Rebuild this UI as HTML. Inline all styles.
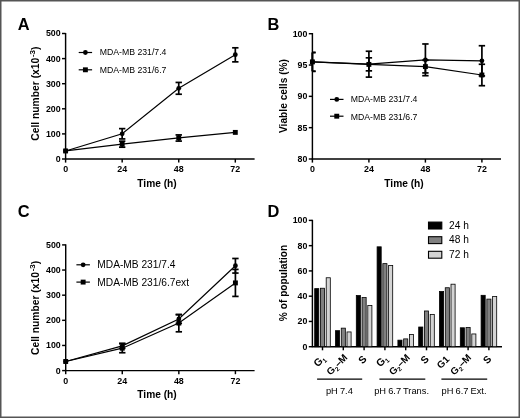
<!DOCTYPE html>
<html><head><meta charset="utf-8"><style>
html,body{margin:0;padding:0;background:#fff;}
svg{display:block;font-family:"Liberation Sans", sans-serif;filter:blur(0.35px);}
</style></head><body>
<svg width="520" height="418" viewBox="0 0 520 418">
<rect x="0" y="0" width="520" height="418" fill="#fff"/>
<g fill="#000" stroke-linecap="butt">
<line x1="65.60" y1="159.00" x2="65.60" y2="33.00" stroke="#000" stroke-width="1.45"/>
<line x1="64.95" y1="159.00" x2="254.60" y2="159.00" stroke="#000" stroke-width="1.45"/>
<line x1="62.00" y1="159.00" x2="65.60" y2="159.00" stroke="#000" stroke-width="1.45"/>
<text x="60.60" y="161.90" font-size="8.8" font-weight="bold" text-anchor="end" >0</text>
<line x1="62.00" y1="133.90" x2="65.60" y2="133.90" stroke="#000" stroke-width="1.45"/>
<text x="60.60" y="136.80" font-size="8.8" font-weight="bold" text-anchor="end" >100</text>
<line x1="62.00" y1="108.80" x2="65.60" y2="108.80" stroke="#000" stroke-width="1.45"/>
<text x="60.60" y="111.70" font-size="8.8" font-weight="bold" text-anchor="end" >200</text>
<line x1="62.00" y1="83.70" x2="65.60" y2="83.70" stroke="#000" stroke-width="1.45"/>
<text x="60.60" y="86.60" font-size="8.8" font-weight="bold" text-anchor="end" >300</text>
<line x1="62.00" y1="58.60" x2="65.60" y2="58.60" stroke="#000" stroke-width="1.45"/>
<text x="60.60" y="61.50" font-size="8.8" font-weight="bold" text-anchor="end" >400</text>
<line x1="62.00" y1="33.50" x2="65.60" y2="33.50" stroke="#000" stroke-width="1.45"/>
<text x="60.60" y="36.40" font-size="8.8" font-weight="bold" text-anchor="end" >500</text>
<line x1="65.60" y1="159.00" x2="65.60" y2="162.60" stroke="#000" stroke-width="1.45"/>
<text x="65.60" y="172.10" font-size="8.9" font-weight="bold" text-anchor="middle" >0</text>
<line x1="122.17" y1="159.00" x2="122.17" y2="162.60" stroke="#000" stroke-width="1.45"/>
<text x="122.17" y="172.10" font-size="8.9" font-weight="bold" text-anchor="middle" >24</text>
<line x1="178.74" y1="159.00" x2="178.74" y2="162.60" stroke="#000" stroke-width="1.45"/>
<text x="178.74" y="172.10" font-size="8.9" font-weight="bold" text-anchor="middle" >48</text>
<line x1="235.31" y1="159.00" x2="235.31" y2="162.60" stroke="#000" stroke-width="1.45"/>
<text x="235.31" y="172.10" font-size="8.9" font-weight="bold" text-anchor="middle" >72</text>
<text x="157.00" y="187.00" font-size="10.2" font-weight="bold" text-anchor="middle" >Time (h)</text>
<g transform="translate(39.3,93.6) rotate(-90)">
<text x="0" y="0" font-size="10.3" font-weight="bold" text-anchor="middle">Cell number (x10<tspan font-size="8" dx="0.7" dy="-4">-3</tspan><tspan dy="4">)</tspan></text>
</g>
<polyline points="65.60,150.97 122.17,133.80 178.74,88.29 235.31,54.71" fill="none" stroke="#000" stroke-width="1.2"/>
<line x1="122.17" y1="128.63" x2="122.17" y2="138.92" stroke="#000" stroke-width="1.7"/>
<line x1="118.97" y1="128.63" x2="125.37" y2="128.63" stroke="#000" stroke-width="1.7"/>
<line x1="118.97" y1="138.92" x2="125.37" y2="138.92" stroke="#000" stroke-width="1.7"/>
<line x1="178.74" y1="82.44" x2="178.74" y2="94.24" stroke="#000" stroke-width="1.7"/>
<line x1="175.54" y1="82.44" x2="181.94" y2="82.44" stroke="#000" stroke-width="1.7"/>
<line x1="175.54" y1="94.24" x2="181.94" y2="94.24" stroke="#000" stroke-width="1.7"/>
<line x1="235.31" y1="47.81" x2="235.31" y2="61.86" stroke="#000" stroke-width="1.7"/>
<line x1="232.11" y1="47.81" x2="238.51" y2="47.81" stroke="#000" stroke-width="1.7"/>
<line x1="232.11" y1="61.86" x2="238.51" y2="61.86" stroke="#000" stroke-width="1.7"/>
<circle cx="65.60" cy="150.97" r="2.4" fill="#000"/>
<circle cx="122.17" cy="133.80" r="2.4" fill="#000"/>
<circle cx="178.74" cy="88.29" r="2.4" fill="#000"/>
<circle cx="235.31" cy="54.71" r="2.4" fill="#000"/>
<polyline points="65.60,150.97 122.17,144.19 178.74,137.84 235.31,132.39" fill="none" stroke="#000" stroke-width="1.2"/>
<line x1="122.17" y1="141.18" x2="122.17" y2="147.20" stroke="#000" stroke-width="1.7"/>
<line x1="118.97" y1="141.18" x2="125.37" y2="141.18" stroke="#000" stroke-width="1.7"/>
<line x1="118.97" y1="147.20" x2="125.37" y2="147.20" stroke="#000" stroke-width="1.7"/>
<line x1="178.74" y1="134.90" x2="178.74" y2="141.10" stroke="#000" stroke-width="1.7"/>
<line x1="175.54" y1="134.90" x2="181.94" y2="134.90" stroke="#000" stroke-width="1.7"/>
<line x1="175.54" y1="141.10" x2="181.94" y2="141.10" stroke="#000" stroke-width="1.7"/>
<rect x="63.15" y="148.52" width="4.9" height="4.9" fill="#000"/>
<rect x="119.72" y="141.74" width="4.9" height="4.9" fill="#000"/>
<rect x="176.29" y="135.39" width="4.9" height="4.9" fill="#000"/>
<rect x="232.86" y="129.94" width="4.9" height="4.9" fill="#000"/>
<line x1="78.70" y1="52.50" x2="92.10" y2="52.50" stroke="#000" stroke-width="1.2"/>
<circle cx="85.40" cy="52.50" r="2.4" fill="#000"/>
<text x="99.80" y="54.90" font-size="8.7" font-weight="normal" text-anchor="start" >MDA-MB 231/7.4</text>
<line x1="78.70" y1="69.80" x2="92.10" y2="69.80" stroke="#000" stroke-width="1.2"/>
<rect x="82.95" y="67.35" width="4.9" height="4.9" fill="#000"/>
<text x="99.80" y="72.80" font-size="8.7" font-weight="normal" text-anchor="start" >MDA-MB 231/6.7</text>
<text x="17.80" y="30.10" font-size="16.4" font-weight="bold" text-anchor="start" >A</text>
<line x1="312.40" y1="159.00" x2="312.40" y2="33.00" stroke="#000" stroke-width="1.45"/>
<line x1="311.75" y1="159.00" x2="501.00" y2="159.00" stroke="#000" stroke-width="1.45"/>
<line x1="308.80" y1="159.00" x2="312.40" y2="159.00" stroke="#000" stroke-width="1.45"/>
<text x="307.40" y="161.90" font-size="8.8" font-weight="bold" text-anchor="end" >80</text>
<line x1="308.80" y1="127.67" x2="312.40" y2="127.67" stroke="#000" stroke-width="1.45"/>
<text x="307.40" y="130.57" font-size="8.8" font-weight="bold" text-anchor="end" >85</text>
<line x1="308.80" y1="96.35" x2="312.40" y2="96.35" stroke="#000" stroke-width="1.45"/>
<text x="307.40" y="99.25" font-size="8.8" font-weight="bold" text-anchor="end" >90</text>
<line x1="308.80" y1="65.03" x2="312.40" y2="65.03" stroke="#000" stroke-width="1.45"/>
<text x="307.40" y="67.93" font-size="8.8" font-weight="bold" text-anchor="end" >95</text>
<line x1="308.80" y1="33.70" x2="312.40" y2="33.70" stroke="#000" stroke-width="1.45"/>
<text x="307.40" y="36.60" font-size="8.8" font-weight="bold" text-anchor="end" >100</text>
<line x1="312.40" y1="159.00" x2="312.40" y2="162.60" stroke="#000" stroke-width="1.45"/>
<text x="312.40" y="172.10" font-size="8.9" font-weight="bold" text-anchor="middle" >0</text>
<line x1="368.90" y1="159.00" x2="368.90" y2="162.60" stroke="#000" stroke-width="1.45"/>
<text x="368.90" y="172.10" font-size="8.9" font-weight="bold" text-anchor="middle" >24</text>
<line x1="425.40" y1="159.00" x2="425.40" y2="162.60" stroke="#000" stroke-width="1.45"/>
<text x="425.40" y="172.10" font-size="8.9" font-weight="bold" text-anchor="middle" >48</text>
<line x1="481.90" y1="159.00" x2="481.90" y2="162.60" stroke="#000" stroke-width="1.45"/>
<text x="481.90" y="172.10" font-size="8.9" font-weight="bold" text-anchor="middle" >72</text>
<text x="404.00" y="187.00" font-size="10.2" font-weight="bold" text-anchor="middle" >Time (h)</text>
<g transform="translate(287.4,96.0) rotate(-90)">
<text x="0" y="0" font-size="10.2" font-weight="bold" text-anchor="middle">Viable cells (%)</text>
</g>
<polyline points="312.40,61.89 368.90,64.09 425.40,59.83 481.90,60.83" fill="none" stroke="#000" stroke-width="1.2"/>
<line x1="312.40" y1="52.50" x2="312.40" y2="71.29" stroke="#000" stroke-width="1.7"/>
<line x1="312.40" y1="52.50" x2="315.60" y2="52.50" stroke="#000" stroke-width="1.7"/>
<line x1="312.40" y1="71.29" x2="315.60" y2="71.29" stroke="#000" stroke-width="1.7"/>
<line x1="368.90" y1="51.24" x2="368.90" y2="77.12" stroke="#000" stroke-width="1.7"/>
<line x1="365.70" y1="51.24" x2="372.10" y2="51.24" stroke="#000" stroke-width="1.7"/>
<line x1="365.70" y1="77.12" x2="372.10" y2="77.12" stroke="#000" stroke-width="1.7"/>
<line x1="425.40" y1="43.97" x2="425.40" y2="75.68" stroke="#000" stroke-width="1.7"/>
<line x1="422.20" y1="43.97" x2="428.60" y2="43.97" stroke="#000" stroke-width="1.7"/>
<line x1="422.20" y1="75.68" x2="428.60" y2="75.68" stroke="#000" stroke-width="1.7"/>
<line x1="481.90" y1="45.73" x2="481.90" y2="75.93" stroke="#000" stroke-width="1.7"/>
<line x1="478.70" y1="45.73" x2="485.10" y2="45.73" stroke="#000" stroke-width="1.7"/>
<line x1="478.70" y1="75.93" x2="485.10" y2="75.93" stroke="#000" stroke-width="1.7"/>
<circle cx="312.40" cy="61.89" r="2.4" fill="#000"/>
<circle cx="368.90" cy="64.09" r="2.4" fill="#000"/>
<circle cx="425.40" cy="59.83" r="2.4" fill="#000"/>
<circle cx="481.90" cy="60.83" r="2.4" fill="#000"/>
<polyline points="312.40,61.89 368.90,64.40 425.40,66.59 481.90,74.99" fill="none" stroke="#000" stroke-width="1.2"/>
<line x1="312.40" y1="52.50" x2="312.40" y2="71.29" stroke="#000" stroke-width="1.7"/>
<line x1="312.40" y1="52.50" x2="315.60" y2="52.50" stroke="#000" stroke-width="1.7"/>
<line x1="312.40" y1="71.29" x2="315.60" y2="71.29" stroke="#000" stroke-width="1.7"/>
<line x1="368.90" y1="57.82" x2="368.90" y2="70.85" stroke="#000" stroke-width="1.7"/>
<line x1="365.70" y1="57.82" x2="372.10" y2="57.82" stroke="#000" stroke-width="1.7"/>
<line x1="365.70" y1="70.85" x2="372.10" y2="70.85" stroke="#000" stroke-width="1.7"/>
<line x1="425.40" y1="60.26" x2="425.40" y2="72.92" stroke="#000" stroke-width="1.7"/>
<line x1="422.20" y1="60.26" x2="428.60" y2="60.26" stroke="#000" stroke-width="1.7"/>
<line x1="422.20" y1="72.92" x2="428.60" y2="72.92" stroke="#000" stroke-width="1.7"/>
<line x1="481.90" y1="64.27" x2="481.90" y2="85.70" stroke="#000" stroke-width="1.7"/>
<line x1="478.70" y1="64.27" x2="485.10" y2="64.27" stroke="#000" stroke-width="1.7"/>
<line x1="478.70" y1="85.70" x2="485.10" y2="85.70" stroke="#000" stroke-width="1.7"/>
<rect x="309.95" y="59.44" width="4.9" height="4.9" fill="#000"/>
<rect x="366.45" y="61.95" width="4.9" height="4.9" fill="#000"/>
<rect x="422.95" y="64.14" width="4.9" height="4.9" fill="#000"/>
<rect x="479.45" y="72.54" width="4.9" height="4.9" fill="#000"/>
<line x1="330.00" y1="99.40" x2="343.50" y2="99.40" stroke="#000" stroke-width="1.2"/>
<circle cx="336.75" cy="99.40" r="2.4" fill="#000"/>
<text x="350.80" y="102.30" font-size="8.7" font-weight="normal" text-anchor="start" >MDA-MB 231/7.4</text>
<line x1="330.00" y1="116.20" x2="343.50" y2="116.20" stroke="#000" stroke-width="1.2"/>
<rect x="334.30" y="113.75" width="4.9" height="4.9" fill="#000"/>
<text x="350.80" y="119.60" font-size="8.7" font-weight="normal" text-anchor="start" >MDA-MB 231/6.7</text>
<text x="267.40" y="30.10" font-size="16.4" font-weight="bold" text-anchor="start" >B</text>
<line x1="65.70" y1="370.60" x2="65.70" y2="244.30" stroke="#000" stroke-width="1.45"/>
<line x1="65.05" y1="370.60" x2="254.60" y2="370.60" stroke="#000" stroke-width="1.45"/>
<line x1="62.10" y1="370.60" x2="65.70" y2="370.60" stroke="#000" stroke-width="1.45"/>
<text x="60.70" y="373.50" font-size="8.8" font-weight="bold" text-anchor="end" >0</text>
<line x1="62.10" y1="345.46" x2="65.70" y2="345.46" stroke="#000" stroke-width="1.45"/>
<text x="60.70" y="348.36" font-size="8.8" font-weight="bold" text-anchor="end" >100</text>
<line x1="62.10" y1="320.32" x2="65.70" y2="320.32" stroke="#000" stroke-width="1.45"/>
<text x="60.70" y="323.22" font-size="8.8" font-weight="bold" text-anchor="end" >200</text>
<line x1="62.10" y1="295.18" x2="65.70" y2="295.18" stroke="#000" stroke-width="1.45"/>
<text x="60.70" y="298.08" font-size="8.8" font-weight="bold" text-anchor="end" >300</text>
<line x1="62.10" y1="270.04" x2="65.70" y2="270.04" stroke="#000" stroke-width="1.45"/>
<text x="60.70" y="272.94" font-size="8.8" font-weight="bold" text-anchor="end" >400</text>
<line x1="62.10" y1="244.90" x2="65.70" y2="244.90" stroke="#000" stroke-width="1.45"/>
<text x="60.70" y="247.80" font-size="8.8" font-weight="bold" text-anchor="end" >500</text>
<line x1="65.70" y1="370.60" x2="65.70" y2="374.20" stroke="#000" stroke-width="1.45"/>
<text x="65.70" y="383.70" font-size="8.9" font-weight="bold" text-anchor="middle" >0</text>
<line x1="122.27" y1="370.60" x2="122.27" y2="374.20" stroke="#000" stroke-width="1.45"/>
<text x="122.27" y="383.70" font-size="8.9" font-weight="bold" text-anchor="middle" >24</text>
<line x1="178.84" y1="370.60" x2="178.84" y2="374.20" stroke="#000" stroke-width="1.45"/>
<text x="178.84" y="383.70" font-size="8.9" font-weight="bold" text-anchor="middle" >48</text>
<line x1="235.41" y1="370.60" x2="235.41" y2="374.20" stroke="#000" stroke-width="1.45"/>
<text x="235.41" y="383.70" font-size="8.9" font-weight="bold" text-anchor="middle" >72</text>
<text x="157.00" y="397.90" font-size="10.2" font-weight="bold" text-anchor="middle" >Time (h)</text>
<g transform="translate(39.3,307.9) rotate(-90)">
<text x="0" y="0" font-size="10.3" font-weight="bold" text-anchor="middle">Cell number (x10<tspan font-size="8" dx="0.7" dy="-4">-3</tspan><tspan dy="4">)</tspan></text>
</g>
<polyline points="65.70,361.50 122.27,345.86 178.84,318.99 235.41,265.77" fill="none" stroke="#000" stroke-width="1.2"/>
<line x1="122.27" y1="343.35" x2="122.27" y2="348.38" stroke="#000" stroke-width="1.7"/>
<line x1="119.07" y1="343.35" x2="125.47" y2="343.35" stroke="#000" stroke-width="1.7"/>
<line x1="119.07" y1="348.38" x2="125.47" y2="348.38" stroke="#000" stroke-width="1.7"/>
<line x1="178.84" y1="314.64" x2="178.84" y2="323.34" stroke="#000" stroke-width="1.7"/>
<line x1="175.64" y1="314.64" x2="182.04" y2="314.64" stroke="#000" stroke-width="1.7"/>
<line x1="175.64" y1="323.34" x2="182.04" y2="323.34" stroke="#000" stroke-width="1.7"/>
<line x1="235.41" y1="258.48" x2="235.41" y2="273.06" stroke="#000" stroke-width="1.7"/>
<line x1="232.21" y1="258.48" x2="238.61" y2="258.48" stroke="#000" stroke-width="1.7"/>
<line x1="232.21" y1="273.06" x2="238.61" y2="273.06" stroke="#000" stroke-width="1.7"/>
<circle cx="65.70" cy="361.50" r="2.4" fill="#000"/>
<circle cx="122.27" cy="345.86" r="2.4" fill="#000"/>
<circle cx="178.84" cy="318.99" r="2.4" fill="#000"/>
<circle cx="235.41" cy="265.77" r="2.4" fill="#000"/>
<polyline points="65.70,361.50 122.27,348.20 178.84,323.09 235.41,282.91" fill="none" stroke="#000" stroke-width="1.2"/>
<line x1="122.27" y1="343.68" x2="122.27" y2="352.73" stroke="#000" stroke-width="1.7"/>
<line x1="119.07" y1="343.68" x2="125.47" y2="343.68" stroke="#000" stroke-width="1.7"/>
<line x1="119.07" y1="352.73" x2="125.47" y2="352.73" stroke="#000" stroke-width="1.7"/>
<line x1="178.84" y1="314.54" x2="178.84" y2="331.81" stroke="#000" stroke-width="1.7"/>
<line x1="175.64" y1="314.54" x2="182.04" y2="314.54" stroke="#000" stroke-width="1.7"/>
<line x1="175.64" y1="331.81" x2="182.04" y2="331.81" stroke="#000" stroke-width="1.7"/>
<line x1="235.41" y1="269.41" x2="235.41" y2="296.41" stroke="#000" stroke-width="1.7"/>
<line x1="232.21" y1="269.41" x2="238.61" y2="269.41" stroke="#000" stroke-width="1.7"/>
<line x1="232.21" y1="296.41" x2="238.61" y2="296.41" stroke="#000" stroke-width="1.7"/>
<rect x="63.25" y="359.05" width="4.9" height="4.9" fill="#000"/>
<rect x="119.82" y="345.75" width="4.9" height="4.9" fill="#000"/>
<rect x="176.39" y="320.64" width="4.9" height="4.9" fill="#000"/>
<rect x="232.96" y="280.46" width="4.9" height="4.9" fill="#000"/>
<line x1="76.40" y1="264.80" x2="89.90" y2="264.80" stroke="#000" stroke-width="1.2"/>
<circle cx="83.15" cy="264.80" r="2.4" fill="#000"/>
<text x="97.30" y="268.20" font-size="10.2" font-weight="normal" text-anchor="start" >MDA-MB 231/7.4</text>
<line x1="76.40" y1="282.10" x2="89.90" y2="282.10" stroke="#000" stroke-width="1.2"/>
<rect x="80.70" y="279.65" width="4.9" height="4.9" fill="#000"/>
<text x="97.30" y="285.60" font-size="10.2" font-weight="normal" text-anchor="start" >MDA-MB 231/6.7ext</text>
<text x="17.80" y="216.60" font-size="16.4" font-weight="bold" text-anchor="start" >C</text>
<line x1="312.40" y1="346.70" x2="312.40" y2="219.80" stroke="#000" stroke-width="1.45"/>
<line x1="311.75" y1="346.70" x2="502.00" y2="346.70" stroke="#000" stroke-width="1.45"/>
<line x1="308.80" y1="346.70" x2="312.40" y2="346.70" stroke="#000" stroke-width="1.45"/>
<text x="307.40" y="349.70" font-size="8.8" font-weight="bold" text-anchor="end" >0</text>
<line x1="308.80" y1="321.44" x2="312.40" y2="321.44" stroke="#000" stroke-width="1.45"/>
<text x="307.40" y="324.44" font-size="8.8" font-weight="bold" text-anchor="end" >20</text>
<line x1="308.80" y1="296.18" x2="312.40" y2="296.18" stroke="#000" stroke-width="1.45"/>
<text x="307.40" y="299.18" font-size="8.8" font-weight="bold" text-anchor="end" >40</text>
<line x1="308.80" y1="270.92" x2="312.40" y2="270.92" stroke="#000" stroke-width="1.45"/>
<text x="307.40" y="273.92" font-size="8.8" font-weight="bold" text-anchor="end" >60</text>
<line x1="308.80" y1="245.66" x2="312.40" y2="245.66" stroke="#000" stroke-width="1.45"/>
<text x="307.40" y="248.66" font-size="8.8" font-weight="bold" text-anchor="end" >80</text>
<line x1="308.80" y1="220.40" x2="312.40" y2="220.40" stroke="#000" stroke-width="1.45"/>
<text x="307.40" y="223.40" font-size="8.8" font-weight="bold" text-anchor="end" >100</text>
<line x1="322.50" y1="346.70" x2="322.50" y2="350.30" stroke="#000" stroke-width="1.45"/>
<line x1="343.30" y1="346.70" x2="343.30" y2="350.30" stroke="#000" stroke-width="1.45"/>
<line x1="364.10" y1="346.70" x2="364.10" y2="350.30" stroke="#000" stroke-width="1.45"/>
<line x1="384.90" y1="346.70" x2="384.90" y2="350.30" stroke="#000" stroke-width="1.45"/>
<line x1="405.70" y1="346.70" x2="405.70" y2="350.30" stroke="#000" stroke-width="1.45"/>
<line x1="426.50" y1="346.70" x2="426.50" y2="350.30" stroke="#000" stroke-width="1.45"/>
<line x1="447.30" y1="346.70" x2="447.30" y2="350.30" stroke="#000" stroke-width="1.45"/>
<line x1="468.10" y1="346.70" x2="468.10" y2="350.30" stroke="#000" stroke-width="1.45"/>
<line x1="488.90" y1="346.70" x2="488.90" y2="350.30" stroke="#000" stroke-width="1.45"/>
<rect x="314.70" y="288.62" width="4.10" height="58.08" fill="#000" stroke="#000" stroke-width="0.8"/>
<rect x="320.45" y="288.24" width="4.10" height="58.46" fill="#808080" stroke="#000" stroke-width="0.8"/>
<rect x="326.20" y="277.76" width="4.10" height="68.94" fill="#d4d4d4" stroke="#000" stroke-width="0.8"/>
<rect x="335.50" y="330.68" width="4.10" height="16.02" fill="#000" stroke="#000" stroke-width="0.8"/>
<rect x="341.25" y="328.15" width="4.10" height="18.54" fill="#808080" stroke="#000" stroke-width="0.8"/>
<rect x="347.00" y="331.94" width="4.10" height="14.76" fill="#d4d4d4" stroke="#000" stroke-width="0.8"/>
<rect x="356.30" y="295.57" width="4.10" height="51.13" fill="#000" stroke="#000" stroke-width="0.8"/>
<rect x="362.05" y="297.59" width="4.10" height="49.11" fill="#808080" stroke="#000" stroke-width="0.8"/>
<rect x="367.80" y="305.42" width="4.10" height="41.28" fill="#d4d4d4" stroke="#000" stroke-width="0.8"/>
<rect x="377.10" y="246.82" width="4.10" height="99.88" fill="#000" stroke="#000" stroke-width="0.8"/>
<rect x="382.85" y="263.62" width="4.10" height="83.08" fill="#808080" stroke="#000" stroke-width="0.8"/>
<rect x="388.60" y="265.51" width="4.10" height="81.19" fill="#d4d4d4" stroke="#000" stroke-width="0.8"/>
<rect x="397.90" y="340.15" width="4.10" height="6.55" fill="#000" stroke="#000" stroke-width="0.8"/>
<rect x="403.65" y="338.89" width="4.10" height="7.81" fill="#808080" stroke="#000" stroke-width="0.8"/>
<rect x="409.40" y="334.47" width="4.10" height="12.23" fill="#d4d4d4" stroke="#000" stroke-width="0.8"/>
<rect x="418.70" y="327.02" width="4.10" height="19.68" fill="#000" stroke="#000" stroke-width="0.8"/>
<rect x="424.45" y="310.98" width="4.10" height="35.72" fill="#808080" stroke="#000" stroke-width="0.8"/>
<rect x="430.20" y="314.39" width="4.10" height="32.31" fill="#d4d4d4" stroke="#000" stroke-width="0.8"/>
<rect x="439.50" y="291.53" width="4.10" height="55.17" fill="#000" stroke="#000" stroke-width="0.8"/>
<rect x="445.25" y="287.74" width="4.10" height="58.96" fill="#808080" stroke="#000" stroke-width="0.8"/>
<rect x="451.00" y="284.20" width="4.10" height="62.50" fill="#d4d4d4" stroke="#000" stroke-width="0.8"/>
<rect x="460.30" y="327.78" width="4.10" height="18.92" fill="#000" stroke="#000" stroke-width="0.8"/>
<rect x="466.05" y="327.40" width="4.10" height="19.30" fill="#808080" stroke="#000" stroke-width="0.8"/>
<rect x="471.80" y="333.96" width="4.10" height="12.74" fill="#d4d4d4" stroke="#000" stroke-width="0.8"/>
<rect x="481.10" y="295.32" width="4.10" height="51.38" fill="#000" stroke="#000" stroke-width="0.8"/>
<rect x="486.85" y="299.11" width="4.10" height="47.59" fill="#808080" stroke="#000" stroke-width="0.8"/>
<rect x="492.60" y="296.58" width="4.10" height="50.12" fill="#d4d4d4" stroke="#000" stroke-width="0.8"/>
<text transform="translate(326.00,359.20) rotate(-45)" font-size="10.5" font-weight="bold" text-anchor="end">G<tspan font-size="6.3" dy="2.2">1</tspan></text>
<text transform="translate(348.10,358.10) rotate(-45)" font-size="9.9" font-weight="bold" text-anchor="end">G<tspan font-size="6.3" dy="2.2">2</tspan><tspan dy="-2.2">–M</tspan></text>
<text transform="translate(367.20,359.60) rotate(-45)" font-size="10.2" font-weight="bold" text-anchor="end">S</text>
<text transform="translate(388.40,359.20) rotate(-45)" font-size="10.5" font-weight="bold" text-anchor="end">G<tspan font-size="6.3" dy="2.2">1</tspan></text>
<text transform="translate(410.50,358.10) rotate(-45)" font-size="9.9" font-weight="bold" text-anchor="end">G<tspan font-size="6.3" dy="2.2">2</tspan><tspan dy="-2.2">–M</tspan></text>
<text transform="translate(429.60,359.60) rotate(-45)" font-size="10.2" font-weight="bold" text-anchor="end">S</text>
<text transform="translate(450.00,360.00) rotate(-45)" font-size="9.8" font-weight="bold" text-anchor="end">G1</text>
<text transform="translate(471.90,358.10) rotate(-45)" font-size="9.9" font-weight="bold" text-anchor="end">G<tspan font-size="6.3" dy="2.2">2</tspan><tspan dy="-2.2">–M</tspan></text>
<text transform="translate(492.00,359.60) rotate(-45)" font-size="10.2" font-weight="bold" text-anchor="end">S</text>
<line x1="317.10" y1="379.20" x2="362.20" y2="379.20" stroke="#000" stroke-width="1.3"/>
<text x="339.40" y="393.80" font-size="9.3" font-weight="normal" text-anchor="middle" word-spacing="-0.5">pH 7.4</text>
<line x1="379.40" y1="379.20" x2="425.30" y2="379.20" stroke="#000" stroke-width="1.3"/>
<text x="401.60" y="393.80" font-size="9.3" font-weight="normal" text-anchor="middle" word-spacing="-0.5">pH 6.7 Trans.</text>
<line x1="441.40" y1="379.20" x2="487.20" y2="379.20" stroke="#000" stroke-width="1.3"/>
<text x="464.05" y="393.80" font-size="9.3" font-weight="normal" text-anchor="middle" word-spacing="-0.5">pH 6.7 Ext.</text>
<g transform="translate(287.3,283.0) rotate(-90)"><text x="0" y="0" font-size="10.2" font-weight="bold" text-anchor="middle">% of population</text></g>
<rect x="428.5" y="222.10" width="13.3" height="6.9" fill="#000" stroke="#000" stroke-width="1.1"/>
<text x="449.00" y="228.60" font-size="10.2" font-weight="normal" text-anchor="start" >24 h</text>
<rect x="428.5" y="236.70" width="13.3" height="6.9" fill="#808080" stroke="#000" stroke-width="1.1"/>
<text x="449.00" y="243.20" font-size="10.2" font-weight="normal" text-anchor="start" >48 h</text>
<rect x="428.5" y="251.30" width="13.3" height="6.9" fill="#d4d4d4" stroke="#000" stroke-width="1.1"/>
<text x="449.00" y="257.80" font-size="10.2" font-weight="normal" text-anchor="start" >72 h</text>
<text x="267.40" y="216.60" font-size="16.4" font-weight="bold" text-anchor="start" >D</text>
</g>
<rect x="0.75" y="0.75" width="518.5" height="416.5" fill="none" stroke="#555" stroke-width="1.5"/>
</svg>
</body></html>
